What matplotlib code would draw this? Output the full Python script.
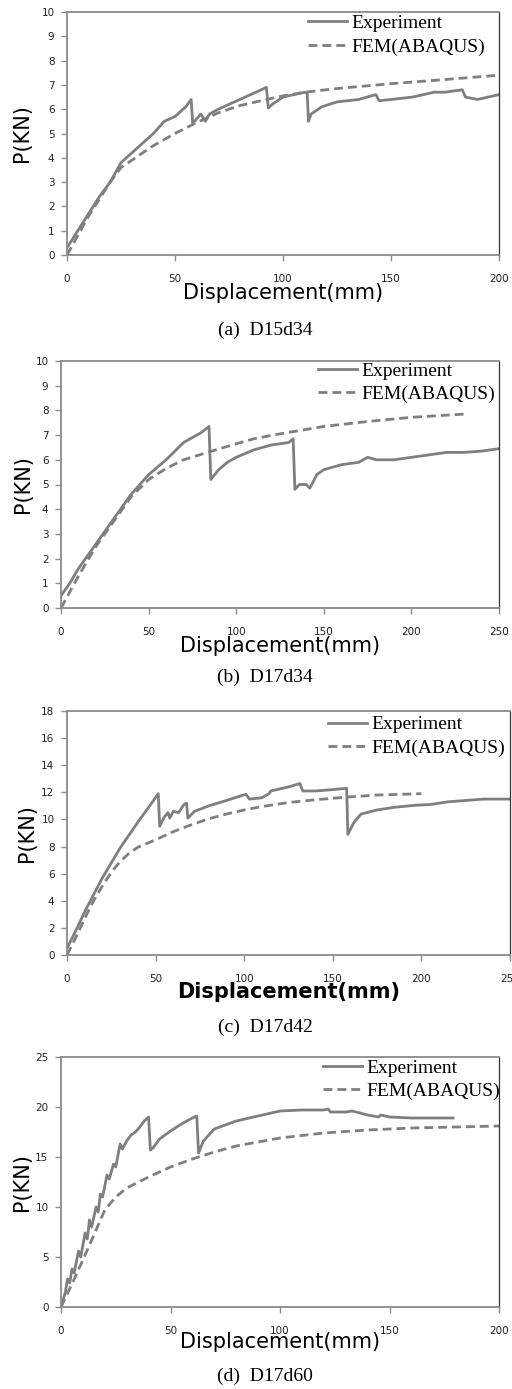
import matplotlib
matplotlib.use("Agg")
import matplotlib.pyplot as plt

# ---------------- data ----------------
# (a) D15d34
a_exp_x = [0, 5, 10, 15, 20, 25, 30, 35, 40, 45, 50, 55, 57.5, 58.2, 60, 62, 64, 66, 70, 75, 80, 85, 90, 92.3, 93.2, 95, 100, 105, 110, 111.2, 111.8, 113, 118, 125, 135, 143, 144.5, 150, 160, 170, 175, 183, 184.5, 190, 195, 200]
a_exp_y = [0.3, 1.0, 1.7, 2.4, 3.0, 3.8, 4.2, 4.6, 5.0, 5.5, 5.7, 6.1, 6.4, 5.4, 5.6, 5.8, 5.5, 5.8, 6.0, 6.2, 6.4, 6.6, 6.8, 6.9, 6.05, 6.2, 6.5, 6.6, 6.7, 6.65, 5.5, 5.8, 6.1, 6.3, 6.4, 6.6, 6.35, 6.4, 6.5, 6.7, 6.7, 6.8, 6.5, 6.4, 6.5, 6.6]
a_fem_x = [0, 5, 10, 15, 20, 25, 30, 40, 50, 60, 70, 80, 90, 100, 112, 125, 150, 175, 200]
a_fem_y = [0, 0.8, 1.6, 2.3, 3.0, 3.6, 3.9, 4.5, 5.0, 5.45, 5.85, 6.15, 6.35, 6.55, 6.72, 6.85, 7.05, 7.22, 7.4]

# (b) D17d34
b_exp_x = [0, 5, 10, 20, 30, 40, 50, 60, 70, 80, 84.5, 85.5, 90, 95, 100, 110, 120, 130, 132.5, 133.5, 136, 140, 142, 146, 150, 160, 170, 175, 180, 190, 200, 210, 220, 230, 240, 250]
b_exp_y = [0.5, 1.0, 1.6, 2.6, 3.6, 4.6, 5.4, 6.0, 6.7, 7.1, 7.35, 5.2, 5.6, 5.9, 6.1, 6.4, 6.6, 6.7, 6.85, 4.8, 5.0, 5.0, 4.85, 5.4, 5.6, 5.8, 5.9, 6.1, 6.0, 6.0, 6.1, 6.2, 6.3, 6.3, 6.35, 6.45]
b_fem_x = [0, 10, 20, 30, 40, 50, 60, 70, 85, 100, 110, 125, 150, 175, 200, 230]
b_fem_y = [0, 1.3, 2.5, 3.5, 4.5, 5.2, 5.65, 6.0, 6.33, 6.65, 6.85, 7.05, 7.35, 7.55, 7.72, 7.85]

# (c) D17d42
c_exp_x = [0, 5, 10, 20, 30, 40, 45, 51.5, 52.3, 55, 57, 58, 60, 63, 66, 67.5, 68.2, 72, 80, 90, 99.5, 101, 103, 110, 114, 115, 125, 131.5, 133, 140, 150, 157.8, 158.5, 162, 166, 175, 185, 197, 205, 215, 225, 235, 250]
c_exp_y = [0.5, 1.8, 3.2, 5.7, 7.9, 9.8, 10.7, 11.9, 9.5, 10.2, 10.5, 10.1, 10.6, 10.5, 11.1, 11.2, 10.1, 10.6, 11.0, 11.4, 11.8, 11.85, 11.5, 11.6, 11.9, 12.1, 12.4, 12.65, 12.1, 12.1, 12.2, 12.3, 8.9, 9.8, 10.4, 10.7, 10.9, 11.05, 11.1, 11.3, 11.4, 11.5, 11.5]
c_fem_x = [0, 5, 10, 15, 20, 25, 30, 35, 40, 50, 60, 70, 80, 90, 100, 110, 125, 140, 158, 175, 200]
c_fem_y = [0, 1.3, 2.7, 4.0, 5.1, 6.1, 6.9, 7.5, 7.95, 8.5, 9.1, 9.6, 10.05, 10.4, 10.7, 10.95, 11.25, 11.45, 11.65, 11.8, 11.9]

# (d) D17d60
d_exp_x = [0, 2, 3, 4, 5, 6, 8, 9, 11, 12, 13, 14, 16, 17, 18, 19, 21, 22, 24, 25, 27, 28, 30, 32, 34, 36, 38, 40, 40.8, 42, 45, 50, 55, 60, 62, 62.8, 65, 70, 75, 80, 90, 100, 110, 120, 122, 123, 130, 133, 140, 145, 146, 150, 160, 179]
d_exp_y = [0, 1.5, 2.8, 2.4, 3.8, 3.4, 5.6, 5.0, 7.4, 6.8, 8.7, 8.0, 10.0, 9.5, 11.3, 11.0, 13.2, 12.8, 14.3, 14.0, 16.3, 15.8, 16.6, 17.2, 17.5, 18.0, 18.6, 19.0, 15.7, 15.9, 16.8, 17.6, 18.3, 18.9, 19.1, 15.4, 16.6, 17.8, 18.2, 18.6, 19.1, 19.6, 19.7, 19.7, 19.8, 19.5, 19.5, 19.6, 19.2, 19.0, 19.2, 19.0, 18.9, 18.9]
d_fem_x = [0, 5, 10, 15, 20, 25, 30, 40, 50, 60, 70, 80, 90, 100, 120, 140, 160, 180, 200]
d_fem_y = [0, 2.3, 4.7, 7.2, 9.7, 11.0, 11.9, 13.0, 14.0, 14.8, 15.5, 16.1, 16.5, 16.9, 17.4, 17.7, 17.9, 18.0, 18.1]

labels = ["Experiment", "FEM(ABAQUS)"]
captions = ["(a)  D15d34", "(b)  D17d34", "(c)  D17d42", "(d)  D17d60"]
xlims = [200, 250, 250, 200]
ylims = [10, 10, 18, 25]
ysteps = [1, 1, 2, 5]
xlabel_bold = [False, False, True, False]

# ---------------- layout ----------------
W, H = 512, 1389
fig = plt.figure(figsize=(W / 100, H / 100), dpi=100)

# axes boxes in pixels: left, right, top, bottom
boxes = [(67, 499, 12, 255), (61, 499, 361, 608), (67, 510, 711, 955), (61, 499, 1057, 1307)]
leg_anchor = [(0.558, 0.99), (0.587, 0.996), (0.589, 0.98), (0.598, 0.992)]
ylab_x = [-0.104, -0.087, -0.090, -0.089]
xlab_y = [-0.156, -0.154, -0.152, -0.14]
cap_y = [330, 677, 1027, 1376]

data = [
    (a_exp_x, a_exp_y, a_fem_x, a_fem_y),
    (b_exp_x, b_exp_y, b_fem_x, b_fem_y),
    (c_exp_x, c_exp_y, c_fem_x, c_fem_y),
    (d_exp_x, d_exp_y, d_fem_x, d_fem_y),
]

col = "#7f7f7f"
spine_col = "#8a8a8a"

for i in range(4):
    l, r, t, b = boxes[i]
    ax = fig.add_axes([l / W, 1 - b / H, (r - l) / W, (b - t) / H])
    ex, ey, fx, fy = data[i]
    ax.plot(ex, ey, color=col, lw=2.0, solid_joinstyle="round", label=labels[0])
    ax.plot(fx, fy, color=col, lw=2.0, linestyle=(0, (3.2, 1.8)), label=labels[1])
    ax.set_xlim(0, xlims[i])
    ax.set_ylim(0, ylims[i])
    ax.set_xticks(list(range(0, xlims[i] + 1, 50)))
    ax.set_yticks(list(range(0, ylims[i] + 1, ysteps[i])))
    for s in ["left", "bottom", "top"]:
        ax.spines[s].set_color(spine_col)
        ax.spines[s].set_linewidth(1.3)
    ax.spines["right"].set_color("#333333")
    ax.spines["right"].set_linewidth(0.9)
    ax.tick_params(axis="both", direction="out", length=4, width=1.0, color=spine_col,
                   labelsize=7.5, labelcolor="#222222")
    ax.tick_params(axis="x", pad=10)
    ax.tick_params(axis="y", pad=5)
    ax.set_ylabel("P(KN)", fontsize=15, family="DejaVu Sans", va="center")
    ax.yaxis.set_label_coords(ylab_x[i], 0.5)
    ax.set_xlabel("Displacement(mm)", fontsize=15, family="DejaVu Sans", va="center",
                  fontweight="bold" if xlabel_bold[i] else "normal")
    ax.xaxis.set_label_coords(0.5, xlab_y[i])
    leg = ax.legend(loc="upper left", bbox_to_anchor=leg_anchor[i], frameon=False,
                    prop={"family": "Liberation Serif", "size": 14},
                    handlelength=2.0, handletextpad=0.25, labelspacing=0.3,
                    borderpad=0, borderaxespad=0)
    fig.text(265 / W, 1 - cap_y[i] / H, captions[i], ha="center", va="center",
             fontsize=14, family="Liberation Serif")

fig.savefig("out.png", dpi=100)
